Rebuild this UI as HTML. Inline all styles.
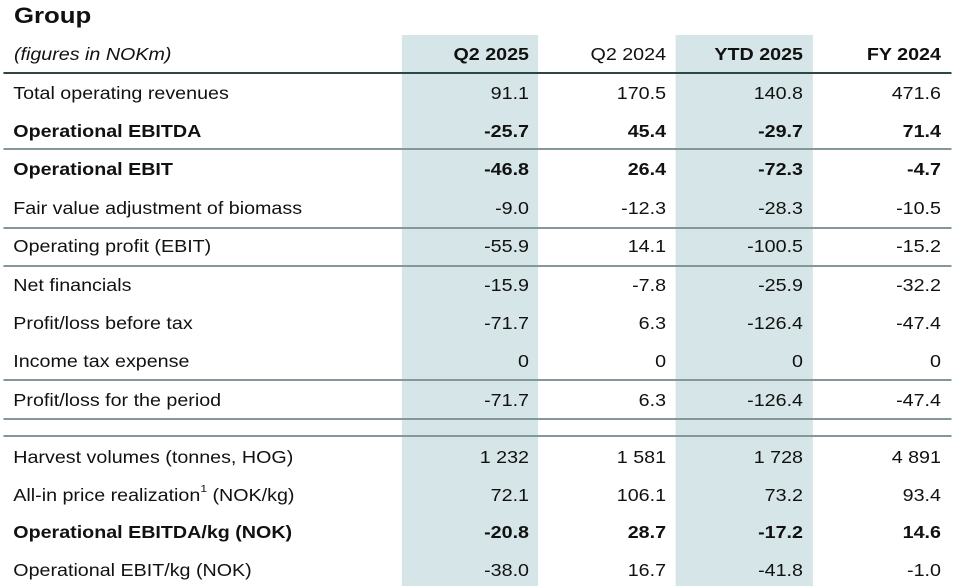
<!DOCTYPE html>
<html>
<head>
<meta charset="utf-8">
<style>
  html, body { margin:0; padding:0; background:#fff; }
  body { width:960px; height:586px; overflow:hidden; position:relative; }
  #c { position:absolute; left:0; top:0; width:838.4px; height:586px; transform:scaleX(1.145); transform-origin:0 0;
       font-family:"Liberation Sans", Arial, sans-serif; color:#111; }
  .shade { position:absolute; top:35px; height:551px; background:#d6e6e8; }
  .rule { position:absolute; left:2.6px; width:828px; height:2px; background:#84979a; }
  .t { position:absolute; font-size:17.2px; line-height:20px; white-space:nowrap; }
  .l { left:11.6px; }
  .n { width:120px; text-align:right; }
  .c1 { left:342px; }
  .c2 { left:461.7px; }
  .c3 { left:581.3px; }
  .c4 { left:701.8px; }
  .b { font-weight:bold; }
  sup.s { font-size:10.5px; position:relative; top:-1px; vertical-align:top; line-height:10px; }
</style>
</head>
<body>
<div id="c">
  <div class="shade" style="left:350.8px;width:119.5px;"></div>
  <div class="shade" style="left:590.4px;width:119.4px;"></div>

  <div class="t b" style="left:12.2px;top:2.5px;font-size:22.5px;line-height:26px;">Group</div>

  <!-- header -->
  <div class="t l" style="top:44.1px;font-style:italic;left:12.2px;">(figures in NOKm)</div>
  <div class="t n c1 b" style="top:44.1px;">Q2 2025</div>
  <div class="t n c2" style="top:44.1px;">Q2 2024</div>
  <div class="t n c3 b" style="top:44.1px;">YTD 2025</div>
  <div class="t n c4 b" style="top:44.1px;">FY 2024</div>

  <div class="rule" style="top:71.7px;background:#2c4745;"></div>
  <div class="rule" style="top:148.3px;"></div>
  <div class="rule" style="top:226.7px;"></div>
  <div class="rule" style="top:264.7px;"></div>
  <div class="rule" style="top:379px;"></div>
  <div class="rule" style="top:417.7px;"></div>
  <div class="rule" style="top:434.7px;"></div>

  <!-- row 1 -->
  <div class="t l" style="top:82.6px;">Total operating revenues</div>
  <div class="t n c1" style="top:82.6px;">91.1</div>
  <div class="t n c2" style="top:82.6px;">170.5</div>
  <div class="t n c3" style="top:82.6px;">140.8</div>
  <div class="t n c4" style="top:82.6px;">471.6</div>

  <!-- row 2 -->
  <div class="t l b" style="top:121px;">Operational EBITDA</div>
  <div class="t n c1 b" style="top:121px;">-25.7</div>
  <div class="t n c2 b" style="top:121px;">45.4</div>
  <div class="t n c3 b" style="top:121px;">-29.7</div>
  <div class="t n c4 b" style="top:121px;">71.4</div>

  <!-- row 3 -->
  <div class="t l b" style="top:159.4px;">Operational EBIT</div>
  <div class="t n c1 b" style="top:159.4px;">-46.8</div>
  <div class="t n c2 b" style="top:159.4px;">26.4</div>
  <div class="t n c3 b" style="top:159.4px;">-72.3</div>
  <div class="t n c4 b" style="top:159.4px;">-4.7</div>

  <!-- row 4 -->
  <div class="t l" style="top:198.3px;">Fair value adjustment of biomass</div>
  <div class="t n c1" style="top:198.3px;">-9.0</div>
  <div class="t n c2" style="top:198.3px;">-12.3</div>
  <div class="t n c3" style="top:198.3px;">-28.3</div>
  <div class="t n c4" style="top:198.3px;">-10.5</div>

  <!-- row 5 -->
  <div class="t l" style="top:236.4px;">Operating profit (EBIT)</div>
  <div class="t n c1" style="top:236.4px;">-55.9</div>
  <div class="t n c2" style="top:236.4px;">14.1</div>
  <div class="t n c3" style="top:236.4px;">-100.5</div>
  <div class="t n c4" style="top:236.4px;">-15.2</div>

  <!-- row 6 -->
  <div class="t l" style="top:274.6px;">Net financials</div>
  <div class="t n c1" style="top:274.6px;">-15.9</div>
  <div class="t n c2" style="top:274.6px;">-7.8</div>
  <div class="t n c3" style="top:274.6px;">-25.9</div>
  <div class="t n c4" style="top:274.6px;">-32.2</div>

  <!-- row 7 -->
  <div class="t l" style="top:313px;">Profit/loss before tax</div>
  <div class="t n c1" style="top:313px;">-71.7</div>
  <div class="t n c2" style="top:313px;">6.3</div>
  <div class="t n c3" style="top:313px;">-126.4</div>
  <div class="t n c4" style="top:313px;">-47.4</div>

  <!-- row 8 -->
  <div class="t l" style="top:351.4px;">Income tax expense</div>
  <div class="t n c1" style="top:351.4px;">0</div>
  <div class="t n c2" style="top:351.4px;">0</div>
  <div class="t n c3" style="top:351.4px;">0</div>
  <div class="t n c4" style="top:351.4px;">0</div>

  <!-- row 9 -->
  <div class="t l" style="top:389.8px;">Profit/loss for the period</div>
  <div class="t n c1" style="top:389.8px;">-71.7</div>
  <div class="t n c2" style="top:389.8px;">6.3</div>
  <div class="t n c3" style="top:389.8px;">-126.4</div>
  <div class="t n c4" style="top:389.8px;">-47.4</div>

  <!-- bottom block -->
  <div class="t l" style="top:446.7px;">Harvest volumes (tonnes, HOG)</div>
  <div class="t n c1" style="top:446.7px;">1 232</div>
  <div class="t n c2" style="top:446.7px;">1 581</div>
  <div class="t n c3" style="top:446.7px;">1 728</div>
  <div class="t n c4" style="top:446.7px;">4 891</div>

  <div class="t l" style="top:484.5px;">All-in price realization<sup class="s">1</sup> (NOK/kg)</div>
  <div class="t n c1" style="top:484.5px;">72.1</div>
  <div class="t n c2" style="top:484.5px;">106.1</div>
  <div class="t n c3" style="top:484.5px;">73.2</div>
  <div class="t n c4" style="top:484.5px;">93.4</div>

  <div class="t l b" style="top:522.3px;">Operational EBITDA/kg (NOK)</div>
  <div class="t n c1 b" style="top:522.3px;">-20.8</div>
  <div class="t n c2 b" style="top:522.3px;">28.7</div>
  <div class="t n c3 b" style="top:522.3px;">-17.2</div>
  <div class="t n c4 b" style="top:522.3px;">14.6</div>

  <div class="t l" style="top:560.1px;">Operational EBIT/kg (NOK)</div>
  <div class="t n c1" style="top:560.1px;">-38.0</div>
  <div class="t n c2" style="top:560.1px;">16.7</div>
  <div class="t n c3" style="top:560.1px;">-41.8</div>
  <div class="t n c4" style="top:560.1px;">-1.0</div>
</div>
</body>
</html>
